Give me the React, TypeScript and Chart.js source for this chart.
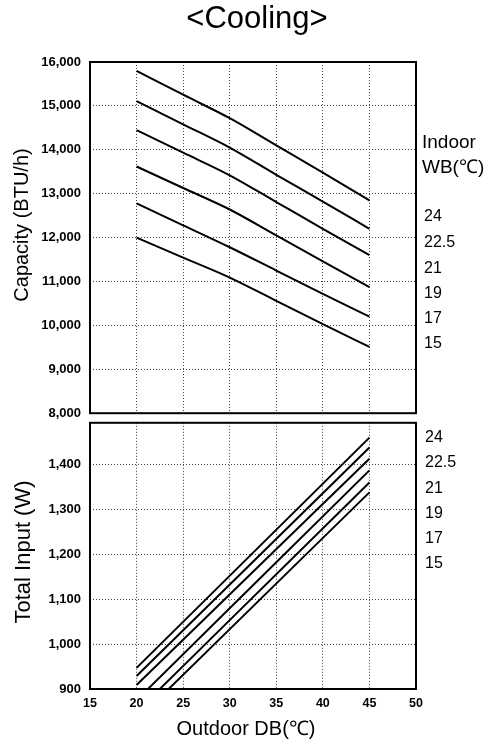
import React, { useEffect, useRef } from "react";
import { Chart, registerables } from "chart.js";

Chart.register(...registerables);

// ---------- data ----------
const outdoorDB = [20, 25, 30, 35, 40, 45];
const wbLabels = ["24", "22.5", "21", "19", "17", "15"];

const capacityWB24 = [15800, 15255, 14720, 14100, 13480, 12850];
const capacityWB225 = [15110, 14580, 14050, 13430, 12820, 12200];
const capacityWB21 = [14450, 13935, 13420, 12810, 12200, 11600];
const capacityWB19 = [13620, 13130, 12640, 12050, 11460, 10870];
const capacityWB17 = [12780, 12280, 11780, 11250, 10720, 10200];
const capacityWB15 = [12000, 11545, 11090, 10560, 10030, 9510];

const inputDB = [20, 45];
const inputWB24 = [947, 1460];
const inputWB225 = [929, 1438];
const inputWB21 = [909, 1413];
const inputWB19 = [875, 1387];
const inputWB17 = [849, 1360];
const inputWB15 = [830, 1338];

const capacitySeries = [capacityWB24, capacityWB225, capacityWB21, capacityWB19, capacityWB17, capacityWB15];
const inputSeries = [inputWB24, inputWB225, inputWB21, inputWB19, inputWB17, inputWB15];

const xTickValues = [15, 20, 25, 30, 35, 40, 45, 50];
const capacityTickValues = [8000, 9000, 10000, 11000, 12000, 13000, 14000, 15000, 16000];
const inputTickValues = [900, 1000, 1100, 1200, 1300, 1400];

const xMin = 15;
const xMax = 50;
const capMin = 8000;
const capMax = 16000;
const inMin = 900;
const inMax = 1493;

const FONT = "'Liberation Sans', Arial, Helvetica, sans-serif";

const framePlugin = {
  id: "frame",
  afterDraw(chart: any) {
    const { ctx, chartArea } = chart;
    const { left, top, right, bottom } = chartArea;
    ctx.save();
    ctx.strokeStyle = "#000";
    ctx.lineWidth = 2;
    ctx.strokeRect(left, top, right - left, bottom - top);
    ctx.restore();
  },
};

const gridCommon = { color: "#444", lineWidth: 1, drawTicks: false };
const borderCommon = { display: false, dash: [1, 2] };
const yTickFont = { family: FONT, size: 13, weight: "bold" as const };
const xTickFont = { family: FONT, size: 12.5, weight: "bold" as const };

function fixedTicks(values: number[]) {
  return (s: any) => {
    s.ticks = values.map((v) => ({ value: v }));
  };
}

function makeDatasets(xs: number[], series: number[][]) {
  return series.map((s, i) => ({
    label: wbLabels[i],
    data: xs.map((x, j) => ({ x, y: s[j] })),
    borderColor: "#000",
    borderWidth: 2,
    pointRadius: 0,
    cubicInterpolationMode: "monotone",
    fill: false,
  }));
}

function Label(props: { text: string; x: number; baseline: number; size: number; center?: boolean }) {
  const { text, x, baseline, size, center } = props;
  return (
    <div
      style={{
        position: "absolute",
        left: x,
        top: baseline - 0.8465 * size,
        fontSize: size,
        lineHeight: 1,
        fontFamily: FONT,
        color: "#000",
        whiteSpace: "nowrap",
        transform: center ? "translateX(-50%)" : undefined,
      }}
    >
      {text}
    </div>
  );
}

function VLabel(props: { text: string; cx: number; cy: number; size: number }) {
  const { text, cx, cy, size } = props;
  return (
    <div
      style={{
        position: "absolute",
        left: cx,
        top: cy,
        fontSize: size,
        lineHeight: 1,
        fontFamily: FONT,
        color: "#000",
        whiteSpace: "nowrap",
        transform: "translate(-50%, -50%) rotate(-90deg)",
      }}
    >
      {text}
    </div>
  );
}

export default function App() {
  const topRef = useRef<HTMLCanvasElement | null>(null);
  const botRef = useRef<HTMLCanvasElement | null>(null);

  useEffect(() => {
    const top = new Chart(topRef.current as HTMLCanvasElement, {
      type: "line",
      data: { datasets: makeDatasets(outdoorDB, capacitySeries) as any },
      options: {
        responsive: false,
        animation: false,
        layout: { padding: { top: 62, right: 74, bottom: 8, left: 0 } },
        plugins: { legend: { display: false }, tooltip: { enabled: false } },
        scales: {
          x: {
            type: "linear",
            min: xMin,
            max: xMax,
            ticks: { display: false },
            afterBuildTicks: fixedTicks(xTickValues),
            grid: gridCommon,
            border: borderCommon,
            afterFit: (s: any) => {
              s.height = 0;
            },
          },
          y: {
            type: "linear",
            min: capMin,
            max: capMax,
            ticks: {
              padding: 9,
              color: "#000",
              font: yTickFont,
              callback: (v: any) => Number(v).toLocaleString("en-US"),
            },
            afterBuildTicks: fixedTicks(capacityTickValues),
            grid: gridCommon,
            border: borderCommon,
            afterFit: (s: any) => {
              s.width = 90;
            },
          },
        },
      } as any,
      plugins: [framePlugin],
    });

    const bot = new Chart(botRef.current as HTMLCanvasElement, {
      type: "line",
      data: { datasets: makeDatasets(inputDB, inputSeries) as any },
      options: {
        responsive: false,
        animation: false,
        layout: { padding: { top: 0, right: 74, bottom: 0, left: 0 } },
        plugins: { legend: { display: false }, tooltip: { enabled: false } },
        scales: {
          x: {
            type: "linear",
            min: xMin,
            max: xMax,
            ticks: { padding: 7, color: "#000", font: xTickFont, maxRotation: 0, autoSkip: false },
            afterBuildTicks: fixedTicks(xTickValues),
            grid: gridCommon,
            border: borderCommon,
            afterFit: (s: any) => {
              s.height = 55;
            },
          },
          y: {
            type: "linear",
            min: inMin,
            max: inMax,
            ticks: {
              padding: 9,
              color: "#000",
              font: yTickFont,
              autoSkip: false,
              callback: (v: any) => Number(v).toLocaleString("en-US"),
            },
            afterBuildTicks: fixedTicks(inputTickValues),
            grid: gridCommon,
            border: borderCommon,
            afterFit: (s: any) => {
              s.width = 90;
            },
          },
        },
      } as any,
      plugins: [framePlugin],
    });

    return () => {
      top.destroy();
      bot.destroy();
    };
  }, []);

  const topWB = [222, 248, 274, 299, 324, 349];
  const botWB = [443, 468, 494, 519, 544, 569];

  return (
    <div style={{ position: "absolute", left: 0, top: 0, width: 490, height: 744, background: "#fff", overflow: "hidden" }}>
      <canvas ref={topRef} width={490} height={430} style={{ position: "absolute", left: 0, top: 0, width: 490, height: 430 }} />
      <canvas ref={botRef} width={490} height={338} style={{ position: "absolute", left: 0, top: 406, width: 490, height: 338 }} />

      <Label text="<Cooling>" x={257} baseline={28} size={31} center />
      <VLabel text="Capacity (BTU/h)" cx={20.5} cy={225} size={20} />
      <VLabel text="Total Input (W)" cx={23} cy={552} size={22} />
      <Label text="Outdoor DB(℃)" x={246} baseline={735} size={20} center />

      <Label text="Indoor" x={422} baseline={148} size={19} />
      <Label text="WB(℃)" x={422} baseline={173} size={19} />
      {wbLabels.map((t, i) => (
        <Label key={"t" + t} text={t} x={424} baseline={topWB[i]} size={16} />
      ))}
      {wbLabels.map((t, i) => (
        <Label key={"b" + t} text={t} x={425} baseline={botWB[i]} size={16} />
      ))}
    </div>
  );
}
